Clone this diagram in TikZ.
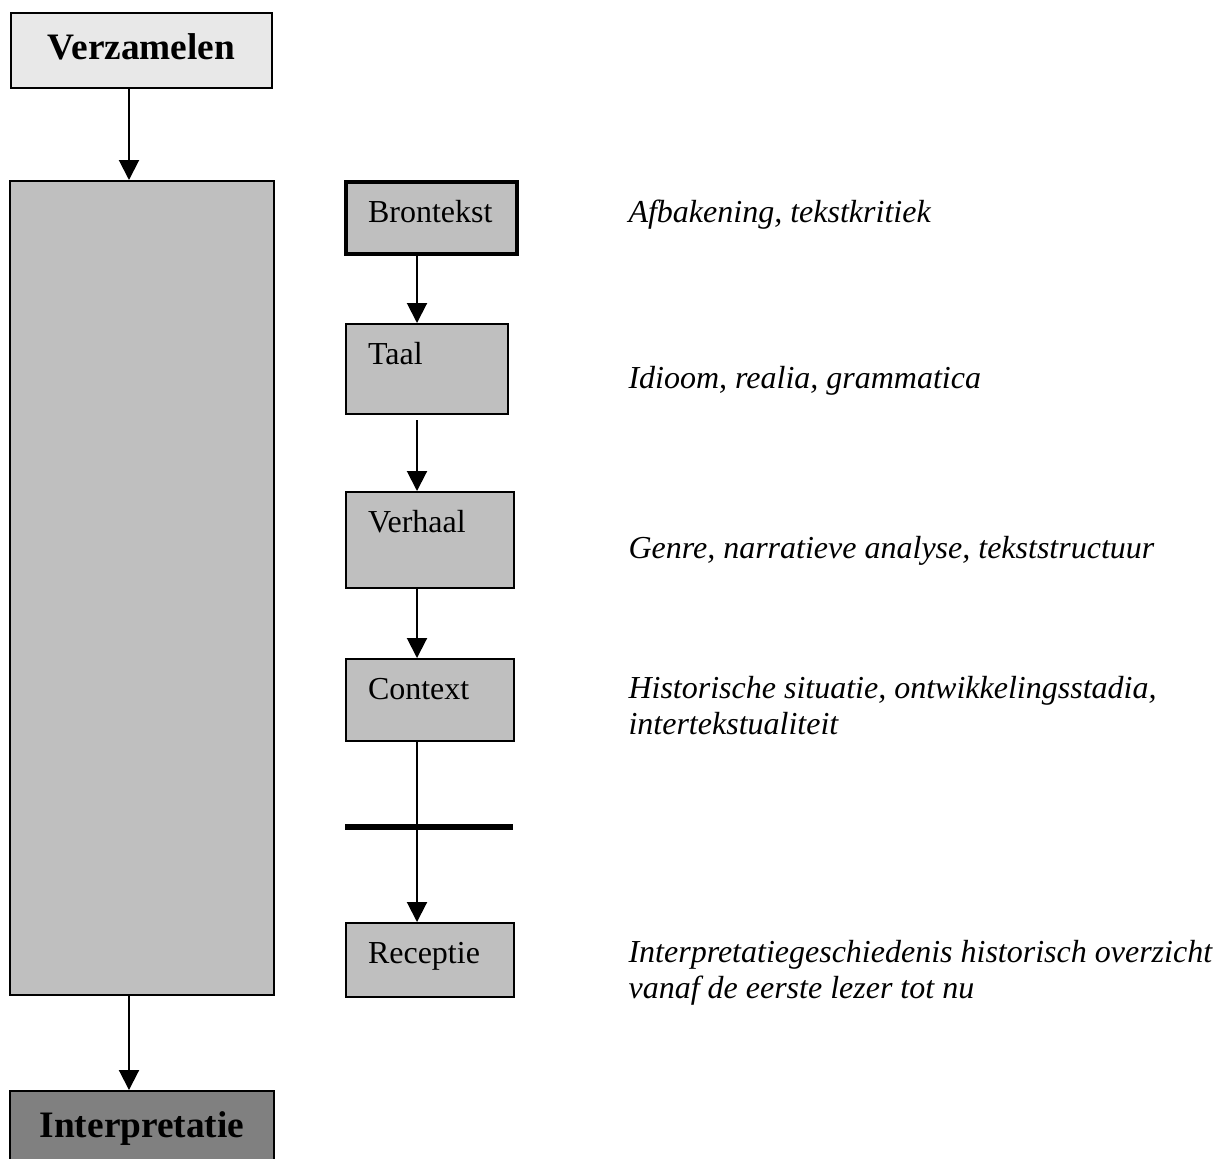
\documentclass[tikz,border=0pt]{standalone}
\usepackage{fontspec}
\setmainfont{Liberation Serif}
\usetikzlibrary{arrows.meta}
\colorlet{Light}{black!9}
\colorlet{Mid}{black!25}
\colorlet{Dark}{black!50}

\tikzset{
  phasebox/.style={draw=black, line width=0.75pt, inner sep=0pt, anchor=north west,
    align=center, font=\fontsize{14}{16}\selectfont\bfseries},
  stepbox/.style={draw=black, fill=Mid, line width=0.75pt, anchor=north west,
    inner xsep=8.25pt, inner ysep=0pt, text height=15pt, align=left,
    font=\fontsize{12}{13.5}\selectfont},
  note/.style={anchor=base west, inner sep=0pt, align=left,
    font=\fontsize{12}{13.5}\selectfont\itshape},
  arr/.style={line width=0.75pt, -{Triangle[length=7.5pt,width=7.5pt]}}
}

\begin{document}
\begin{tikzpicture}[x=0.375pt, y=-0.375pt]
        \clip (0,0) rectangle (1221,1158);
        \coordinate (laxis) at (129,0);
        \coordinate (raxis) at (417,0);

        \node[phasebox, fill=Light, text width=97.9pt, text height=17.6pt, text depth=10.5pt] (verz) at (10,12) {Verzamelen};
        \node[phasebox, fill=Mid, minimum width=99pt, minimum height=305.25pt] (big) at (9,180) {};
        \node[phasebox, fill=Dark, text width=99pt, text height=17.6pt, text depth=12.4pt] (interp) at (9,1090) {Interpretatie};

        \node[stepbox, line width=1.5pt, text width=47.6pt, text depth=12pt] (bron) at (344,180) {Brontekst};
        \node[stepbox, text width=44.25pt, text depth=18.75pt] (taal) at (345,323) {Taal};
        \node[stepbox, text width=46.5pt, text depth=21pt] (verhaal) at (345,491) {Verhaal};
        \node[stepbox, text width=46.5pt, text depth=15.75pt] (context) at (345,658) {Context};
        \node[stepbox, text width=46.5pt, text depth=12.75pt] (receptie) at (345,922) {Receptie};

        \coordinate (barL) at (345,827);
        \coordinate (barR) at (513,827);
        \draw[line width=2.25pt] (barL) -- (barR);

        \node[note] (n1) at (628,222) {Afbakening, tekstkritiek};
        \node[note] (n2) at (628,388) {Idioom, realia, grammatica};
        \node[note] (n3) at (628,558) {Genre, narratieve analyse, tekststructuur};
        \node[note] (n4) at (628,734) {Historische situatie, ontwikkelingsstadia,\\intertekstualiteit};
        \node[note] (n5) at (628,998) {Interpretatiegeschiedenis historisch overzicht\\vanaf de eerste lezer tot nu};

        % arrows down both columns
        \draw[arr] (verz.south -| laxis) -- (big.north -| laxis);
        \draw[arr] (big.south -| laxis) -- (interp.north -| laxis);
        \draw[arr] (bron.south -| raxis) -- (taal.north -| raxis);
        \draw[arr, shorten <=2pt] (taal.south -| raxis) -- (verhaal.north -| raxis);
        \draw[arr] (verhaal.south -| raxis) -- (context.north -| raxis);
        \draw[arr] (context.south -| raxis) -- (receptie.north -| raxis);
\end{tikzpicture}
\end{document}
